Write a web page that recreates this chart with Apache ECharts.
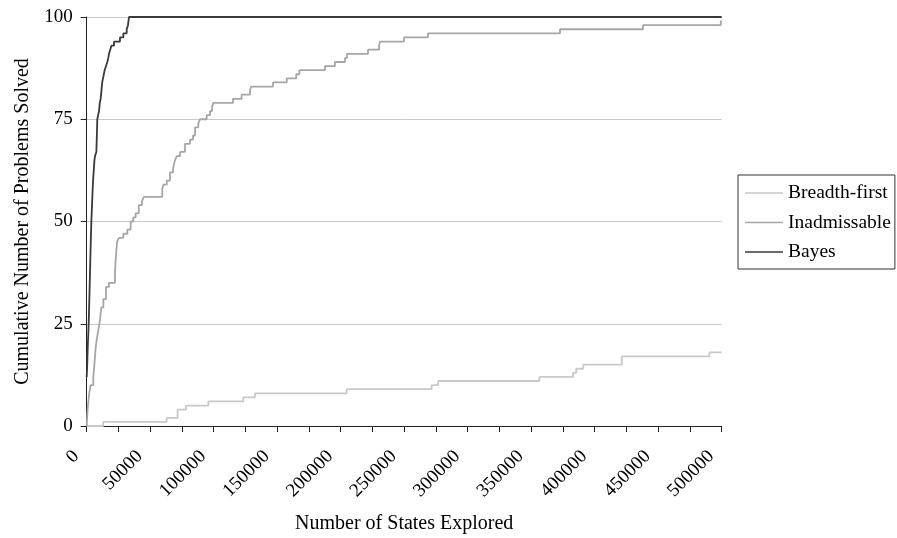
<!DOCTYPE html>
<html>
<head>
<meta charset="utf-8">
<script src="https://cdn.jsdelivr.net/npm/echarts@6/dist/echarts.min.js"></script>
<style>
  html, body { margin: 0; padding: 0; background: #fff; }
  #chart { width: 897px; height: 538px; }
</style>
</head>
<body>
<div id="chart"></div>
<script>
// x = states explored at which the count steps, y = problems solved
var bfX = [0, 13000, 63000, 71600, 78200, 95800, 123300, 132500, 204700, 271600, 276800, 356400, 383000, 385500, 391000, 421300, 490300, 500000];
var bfY = [0, 1, 2, 4, 5, 6, 7, 8, 9, 10, 11, 12, 13, 14, 15, 17, 18, 18];

var inX = [0, 500, 1000, 2000, 3100, 5200, 6300, 7000, 7850, 9400, 10500, 11500, 13100, 15200, 17500, 22300, 23100, 23900,
           25400, 28850, 32000, 34600, 36700, 38500, 41000, 43500, 45000, 59500, 60500, 63000, 65600, 68000, 69500, 71000,
           73500, 77400, 81300, 83700, 85300, 87900, 89200, 94500, 97100, 98700, 99700, 115200, 122000, 128600, 129400,
           146700, 157500, 165000, 167500, 187600, 195500, 203400, 205000, 221500, 230200, 231000, 249900, 268700,
           372700, 438000, 499300, 500000];
var inY = [0, 3, 5, 8, 10, 12, 16, 19, 21, 24, 26, 29, 31, 34, 35, 38, 42, 45,
           46, 47, 48, 50, 51, 52, 54, 55, 56, 58, 59, 60, 62, 63, 65, 66,
           67, 69, 70, 71, 73, 74, 75, 76, 77, 78, 79, 80, 81, 82, 83,
           84, 85, 86, 87, 88, 89, 90, 91, 92, 93, 94, 95, 96,
           97, 98, 99, 99];

var byX = [0, 300, 600, 900, 1200, 1550, 2000, 2400, 2800, 3200, 3650, 4200, 4700, 5200, 5700, 6100, 6550, 7600, 8000, 8350,
           9000, 9700, 10300, 11000, 11600, 12200, 12850, 13500, 14150, 15200, 16250, 17000, 17550, 18500, 19500, 21500,
           26200, 28850, 31500, 32500, 33300, 500000];
var byY = [12, 14, 17, 20, 22, 25, 30, 35, 40, 45, 50, 54, 58, 61, 63, 65, 66, 67, 71, 75,
           76, 77, 79, 80, 82, 84, 85, 86, 87, 88, 89, 90, 91, 92, 93, 94,
           95, 96, 97, 98, 100, 100];

var seriesNames = ['Breadth-first', 'Inadmissable', 'Bayes'];
var seriesColors = ['#c9c9c9', '#a6a6a6', '#3a3a3a'];

function pairs(xs, ys) {
  var out = [];
  for (var i = 0; i < xs.length; i++) out.push([xs[i], ys[i]]);
  return out;
}

var font = 'Liberation Serif';
var chart = echarts.init(document.getElementById('chart'), null, { renderer: 'canvas' });

var option = {
  animation: false,
  backgroundColor: '#fff',
  grid: { left: 86.7, right: 175.3, top: 17, bottom: 112, outerBoundsMode: 'none', containLabel: false },
  legend: {
    orient: 'vertical',
    left: 738,
    top: 175,
    padding: [8, 4, 7, 7],
    icon: 'rect',
    itemWidth: 38,
    itemHeight: 1.6,
    itemGap: 9.5,
    borderColor: '#333',
    borderWidth: 1,
    borderRadius: 0,
    data: seriesNames,
    textStyle: { fontFamily: font, fontSize: 19.5, color: '#000' }
  },
  xAxis: {
    type: 'value',
    min: 0,
    max: 500000,
    interval: 25000,
    name: 'Number of States Explored',
    nameLocation: 'middle',
    nameGap: 88,
    nameTextStyle: { fontFamily: font, fontSize: 20, color: '#000' },
    axisLine: { lineStyle: { color: '#222', width: 1 } },
    axisTick: { show: true, length: 6, lineStyle: { color: '#222' } },
    splitLine: { show: false },
    axisLabel: {
      rotate: 45,
      margin: 17,
      padding: [0, 15, 0, 0],
      fontFamily: font,
      fontSize: 19,
      color: '#000',
      showMinLabel: true,
      showMaxLabel: true,
      formatter: function (v) { return v % 50000 === 0 ? String(v) : ''; }
    }
  },
  yAxis: {
    type: 'value',
    min: 0,
    max: 100,
    interval: 25,
    name: 'Cumulative Number of Problems Solved',
    nameLocation: 'middle',
    nameGap: 54,
    nameTextStyle: { fontFamily: font, fontSize: 20, color: '#000' },
    axisLine: { show: true, lineStyle: { color: '#222', width: 1 } },
    axisTick: { show: true, length: 6, lineStyle: { color: '#222' } },
    splitLine: { show: true, lineStyle: { color: '#c8c8c8', width: 1 } },
    axisLabel: { margin: 14, fontFamily: font, fontSize: 19, color: '#000' }
  },
  series: seriesNames.map(function (name, i) {
    var data = [pairs(bfX, bfY), pairs(inX, inY), pairs(byX, byY)][i];
    return {
      name: name,
      type: 'line',
      step: 'end',
      symbol: 'none',
      data: data,
      z: 2 + i,
      color: seriesColors[i],
      lineStyle: { color: seriesColors[i], width: 1.8 }
    };
  })
};

chart.setOption(option);
</script>
</body>
</html>
